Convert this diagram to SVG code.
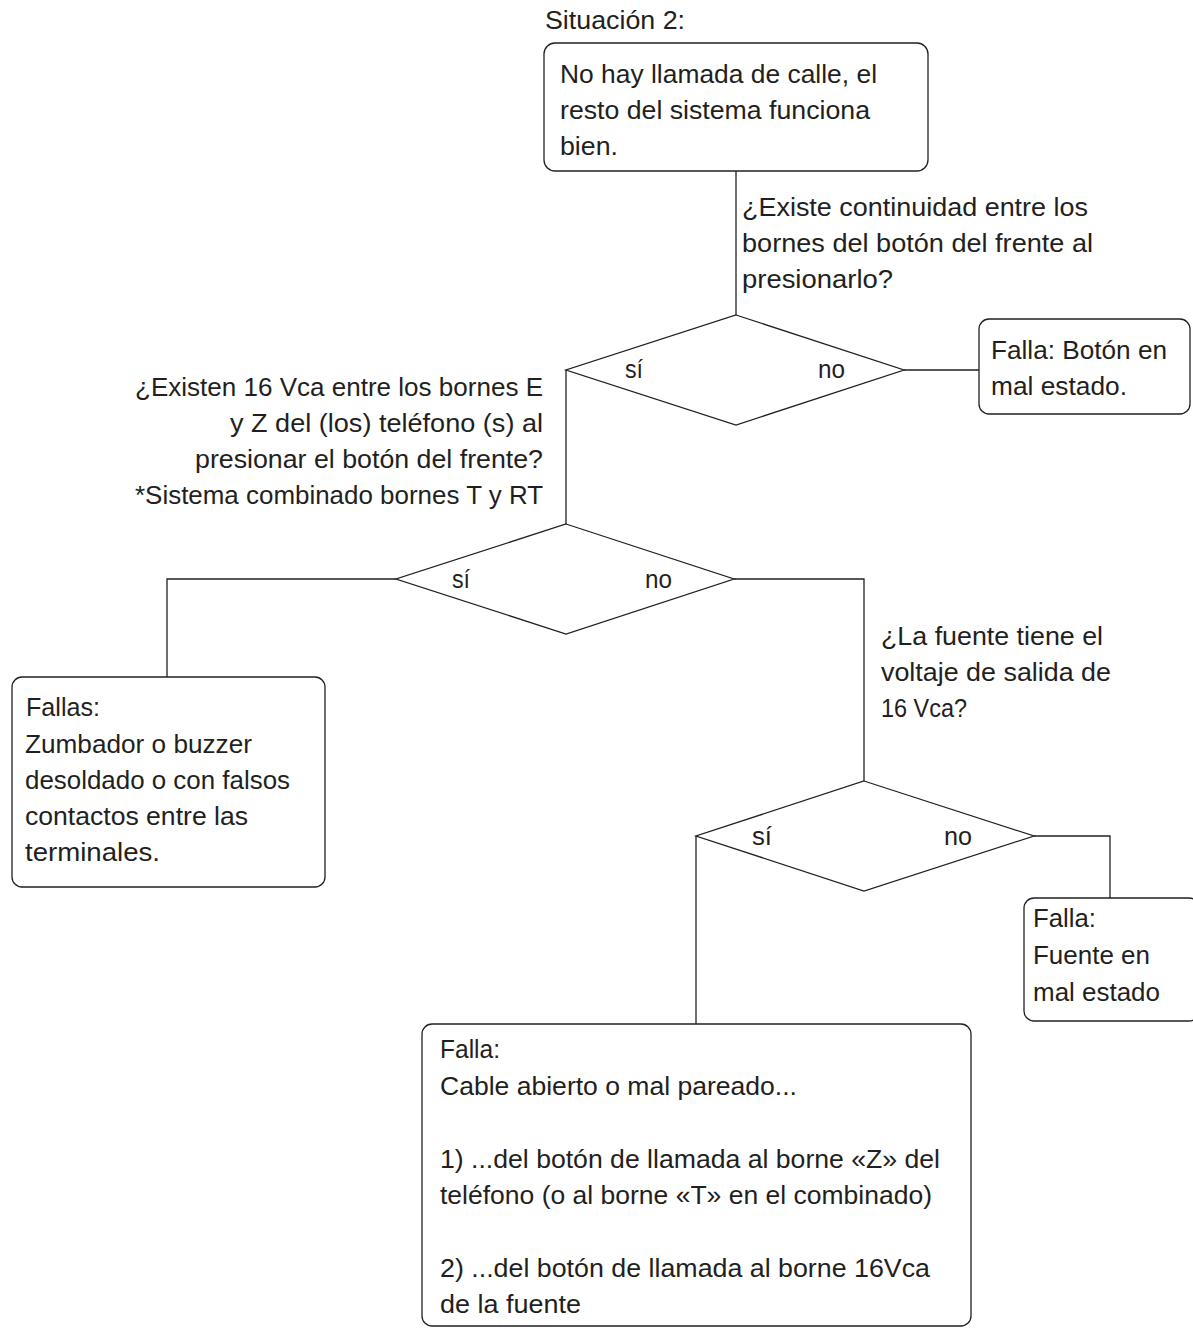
<svg xmlns="http://www.w3.org/2000/svg" width="1193" height="1329" viewBox="0 0 1193 1329">
<style>
text{font-family:"Liberation Sans",Arial,sans-serif;font-size:25px;fill:#231f20}
.b{fill:#fff;stroke:#231f20;stroke-width:1.3}
.c{fill:none;stroke:#231f20;stroke-width:1.3}
</style>
<rect width="1193" height="1329" fill="#fff"/>
<g id="connectors">
<polyline class="c" points="736,171 736,315"/>
<polyline class="c" points="904,370 979,370"/>
<polyline class="c" points="566,370 566,524"/>
<polyline class="c" points="396,579 167,579 167,677"/>
<polyline class="c" points="734,579 864,579 864,781"/>
<polyline class="c" points="1034,836 1110,836 1110,898"/>
<polyline class="c" points="696,836 696,1024"/>
</g>
<g id="title"><text x="545" y="29" textLength="140" lengthAdjust="spacingAndGlyphs">Situación 2:</text></g>
<g id="start">
<rect class="b" x="544" y="43" width="384" height="128" rx="11"/>
<text x="560" y="83" textLength="317" lengthAdjust="spacingAndGlyphs">No hay llamada de calle, el</text>
<text x="560" y="119" textLength="310" lengthAdjust="spacingAndGlyphs">resto del sistema funciona</text>
<text x="560" y="155" textLength="58" lengthAdjust="spacingAndGlyphs">bien.</text>
</g>
<g id="q1">
<text x="742" y="216" textLength="346" lengthAdjust="spacingAndGlyphs">¿Existe continuidad entre los</text>
<text x="742" y="252" textLength="351" lengthAdjust="spacingAndGlyphs">bornes del botón del frente al</text>
<text x="742" y="288" textLength="151" lengthAdjust="spacingAndGlyphs">presionarlo?</text>
</g>
<g id="d1">
<polygon class="b" points="736,315 904,370 736,425 566,370"/>
<text x="625" y="378" textLength="18" lengthAdjust="spacingAndGlyphs">sí</text>
<text x="818" y="378" textLength="27" lengthAdjust="spacingAndGlyphs">no</text>
</g>
<g id="f1">
<rect class="b" x="979" y="319" width="211" height="95" rx="10"/>
<text x="991" y="359" textLength="176" lengthAdjust="spacingAndGlyphs">Falla: Botón en</text>
<text x="991" y="395" textLength="136" lengthAdjust="spacingAndGlyphs">mal estado.</text>
</g>
<g id="q2">
<text x="135" y="396" textLength="408" lengthAdjust="spacingAndGlyphs">¿Existen 16 Vca entre  los bornes E</text>
<text x="230" y="432" textLength="313" lengthAdjust="spacingAndGlyphs">y Z del (los) teléfono (s) al</text>
<text x="195" y="468" textLength="348" lengthAdjust="spacingAndGlyphs">presionar el botón del frente?</text>
<text x="135" y="504" textLength="408" lengthAdjust="spacingAndGlyphs">*Sistema combinado bornes T y RT</text>
</g>
<g id="d2">
<polygon class="b" points="566,524 734,579 566,634 396,579"/>
<text x="452" y="588" textLength="18" lengthAdjust="spacingAndGlyphs">sí</text>
<text x="645" y="588" textLength="27" lengthAdjust="spacingAndGlyphs">no</text>
</g>
<g id="f2">
<rect class="b" x="12" y="677" width="313" height="210" rx="10"/>
<text x="26" y="716" textLength="74" lengthAdjust="spacingAndGlyphs">Fallas:</text>
<text x="25" y="753" textLength="227" lengthAdjust="spacingAndGlyphs">Zumbador o buzzer</text>
<text x="25" y="789" textLength="265" lengthAdjust="spacingAndGlyphs">desoldado o con falsos</text>
<text x="25" y="825" textLength="223" lengthAdjust="spacingAndGlyphs">contactos entre las</text>
<text x="25" y="861" textLength="135" lengthAdjust="spacingAndGlyphs">terminales.</text>
</g>
<g id="q3">
<text x="881" y="645" textLength="222" lengthAdjust="spacingAndGlyphs">¿La fuente tiene el</text>
<text x="881" y="681" textLength="230" lengthAdjust="spacingAndGlyphs">voltaje de salida de</text>
<text x="881" y="717" textLength="86" lengthAdjust="spacingAndGlyphs">16 Vca?</text>
</g>
<g id="d3">
<polygon class="b" points="864,781 1034,836 864,891 696,836"/>
<text x="752" y="845" textLength="20" lengthAdjust="spacingAndGlyphs">sí</text>
<text x="944" y="845" textLength="28" lengthAdjust="spacingAndGlyphs">no</text>
</g>
<g id="f3">
<rect class="b" x="1024" y="898" width="175" height="123" rx="10"/>
<text x="1033" y="927" textLength="63" lengthAdjust="spacingAndGlyphs">Falla:</text>
<text x="1033" y="964" textLength="117" lengthAdjust="spacingAndGlyphs">Fuente en</text>
<text x="1033" y="1001" textLength="127" lengthAdjust="spacingAndGlyphs">mal estado</text>
</g>
<g id="f4">
<rect class="b" x="422" y="1024" width="549" height="302" rx="10"/>
<text x="440" y="1058" textLength="60" lengthAdjust="spacingAndGlyphs">Falla:</text>
<text x="440" y="1095" textLength="357" lengthAdjust="spacingAndGlyphs">Cable abierto o mal pareado...</text>
<text x="440" y="1168" textLength="500" lengthAdjust="spacingAndGlyphs">1) ...del botón de llamada al borne «Z» del</text>
<text x="440" y="1204" textLength="492" lengthAdjust="spacingAndGlyphs">teléfono (o al borne «T» en el combinado)</text>
<text x="440" y="1277" textLength="490" lengthAdjust="spacingAndGlyphs">2) ...del botón de llamada al borne 16Vca</text>
<text x="440" y="1313" textLength="141" lengthAdjust="spacingAndGlyphs">de la fuente</text>
</g>
</svg>
